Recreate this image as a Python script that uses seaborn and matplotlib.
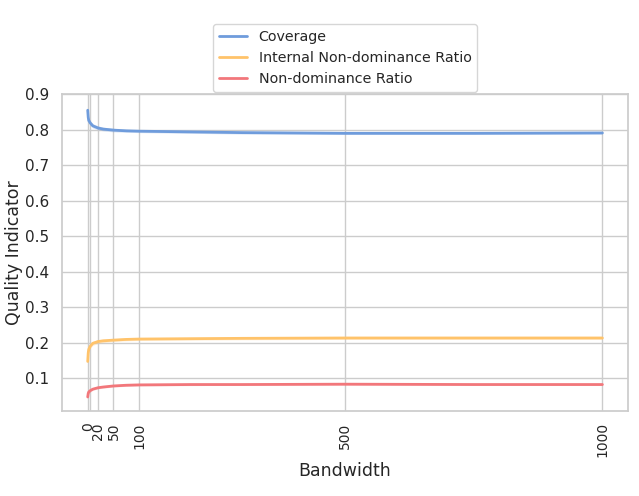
import matplotlib
matplotlib.use("Agg")
import matplotlib.pyplot as plt
import seaborn as sns
import pandas as pd

# Bandwidth values and mean quality indicators with their confidence bounds
bandwidth = [0, 1, 2, 5, 10, 20, 30, 50, 75, 100, 200, 300, 500, 750, 1000]

coverage = [0.855, 0.835, 0.826, 0.819, 0.811, 0.805, 0.802, 0.799, 0.797, 0.796,
            0.794, 0.792, 0.790, 0.790, 0.791]
coverage_lo = [0.849, 0.828, 0.819, 0.812, 0.805, 0.800, 0.797, 0.794, 0.793, 0.792,
               0.790, 0.788, 0.787, 0.787, 0.788]
coverage_hi = [0.861, 0.842, 0.833, 0.826, 0.817, 0.811, 0.807, 0.804, 0.801, 0.800,
               0.798, 0.796, 0.794, 0.794, 0.794]

internal_ratio = [0.148, 0.172, 0.182, 0.191, 0.199, 0.204, 0.206, 0.208, 0.210, 0.211,
                  0.212, 0.213, 0.214, 0.214, 0.214]
internal_lo = [0.142, 0.166, 0.176, 0.185, 0.193, 0.199, 0.201, 0.204, 0.206, 0.207,
               0.208, 0.209, 0.210, 0.210, 0.210]
internal_hi = [0.154, 0.178, 0.188, 0.197, 0.205, 0.209, 0.211, 0.212, 0.214, 0.215,
               0.216, 0.217, 0.218, 0.218, 0.218]

nondom_ratio = [0.048, 0.058, 0.062, 0.066, 0.070, 0.074, 0.076, 0.079, 0.081, 0.082,
                0.083, 0.083, 0.084, 0.083, 0.083]
nondom_lo = [0.044, 0.054, 0.058, 0.062, 0.067, 0.071, 0.073, 0.076, 0.078, 0.079,
             0.080, 0.081, 0.081, 0.081, 0.081]
nondom_hi = [0.052, 0.062, 0.066, 0.070, 0.073, 0.077, 0.079, 0.082, 0.084, 0.085,
             0.086, 0.086, 0.087, 0.086, 0.086]

series_names = ["Coverage", "Internal Non-dominance Ratio", "Non-dominance Ratio"]
series_colors = ["#6f9cdc", "#ffc36a", "#f2777b"]

xtick_values = [0, 5, 20, 50, 100, 500, 1000]
xtick_labels = ["0", "", "20", "50", "100", "500", "1000"]

sns.set_theme(style="whitegrid")
plt.rcParams["font.family"] = ["DejaVu Sans"]

frames = []
for name, mean, lo, hi in zip(series_names,
                              [coverage, internal_ratio, nondom_ratio],
                              [coverage_lo, internal_lo, nondom_lo],
                              [coverage_hi, internal_hi, nondom_hi]):
    frames.append(pd.DataFrame({"Bandwidth": bandwidth, "value": mean,
                                "lo": lo, "hi": hi, "indicator": name}))
df = pd.concat(frames, ignore_index=True)

fig = plt.figure(figsize=(6.39, 4.96), dpi=100)
ax = fig.add_axes([0.097, 0.171, 0.886, 0.639])

sns.lineplot(data=df, x="Bandwidth", y="value", hue="indicator",
             hue_order=series_names, palette=series_colors,
             linewidth=2.0, ax=ax)

for name, color in zip(series_names, series_colors):
    sub = df[df["indicator"] == name]
    ax.fill_between(sub["Bandwidth"], sub["lo"], sub["hi"],
                    color=color, alpha=0.25, linewidth=0)

ax.set_xlim(-50, 1050)
ax.set_ylim(0.008, 0.9)
ax.set_xticks(xtick_values)
ax.set_xticklabels(xtick_labels, rotation=90)
ax.set_yticks([0.1, 0.2, 0.3, 0.4, 0.5, 0.6, 0.7, 0.8, 0.9])
ax.tick_params(axis="y", labelsize=11)
ax.tick_params(axis="x", labelsize=10, pad=2)
ax.set_xlabel("Bandwidth", fontsize=12.5, labelpad=3)
ax.set_ylabel("Quality Indicator", fontsize=12.5, labelpad=1)

leg = ax.legend(loc="lower center", bbox_to_anchor=(0.5, 1.0),
                borderaxespad=0.15, fontsize=10.3, title=None)
for line in leg.get_lines():
    line.set_linewidth(2.0)

fig.savefig("out.png", dpi=100)
